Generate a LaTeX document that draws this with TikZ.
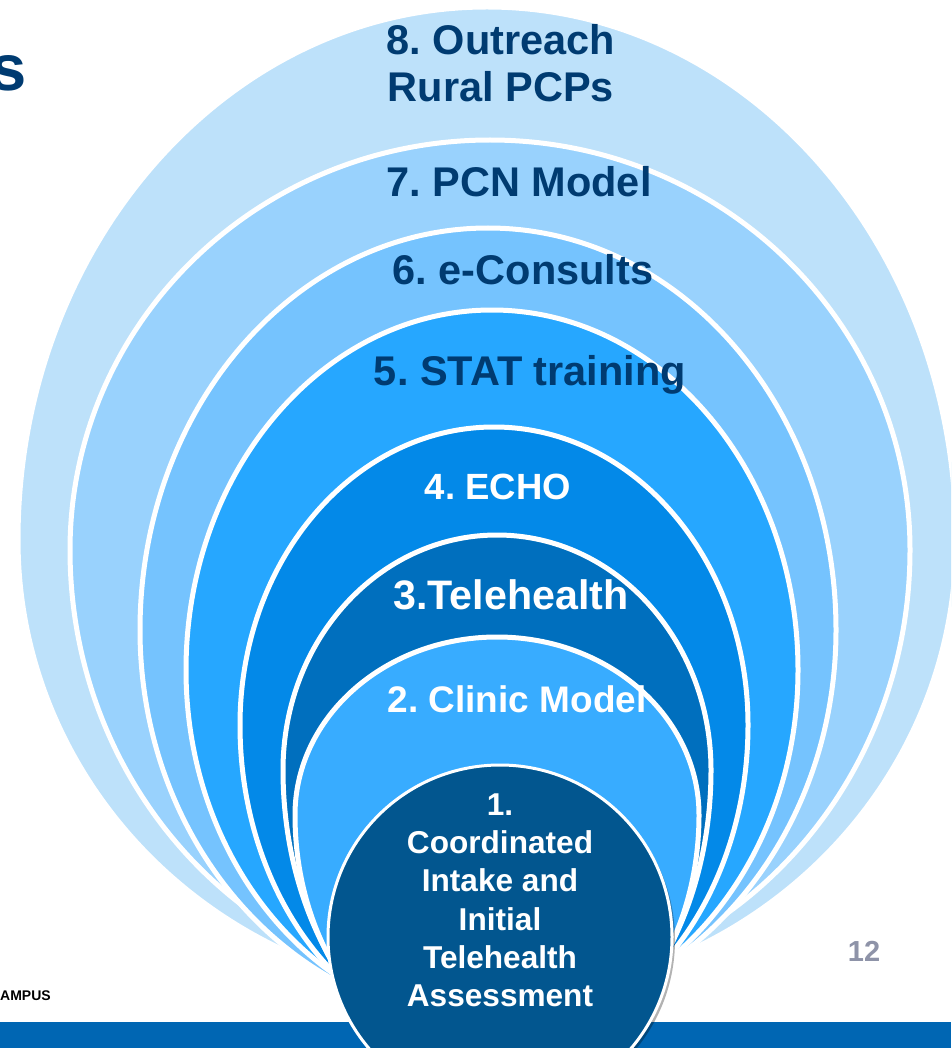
\documentclass[tikz,border=0pt]{standalone}
\usepackage{fontspec}
\setmainfont{Liberation Sans}
\usetikzlibrary{shadows}

\definecolor{ringA}{HTML}{02568F}
\definecolor{ringB}{HTML}{38ACFF}
\definecolor{ringC}{HTML}{006FBE}
\definecolor{ringD}{HTML}{0389E8}
\definecolor{ringE}{HTML}{26A7FF}
\definecolor{ringF}{HTML}{75C3FE}
\definecolor{ringG}{HTML}{99D2FD}
\definecolor{ringH}{HTML}{BDE1FA}
\definecolor{navy}{HTML}{003B71}
\definecolor{barblue}{HTML}{0066B3}
\definecolor{pagegray}{HTML}{8E93A8}

\tikzset{
	ring/.style={fill=#1, draw=white, line width=5pt},
	darklabel/.style={text=navy, font=\bfseries\fontsize{41.5}{47}\selectfont, inner sep=0pt, anchor=base},
	lightlabel/.style={text=white, font=\bfseries\fontsize{#1}{#1}\selectfont, inner sep=0pt, anchor=base},
}

\begin{document}
\frenchspacing
\begin{tikzpicture}[x=1pt, y=-1pt]
	\useasboundingbox (0,0) rectangle (951,1048);
	\clip (0,0) rectangle (951,1048);

	% nested eggs, outermost first
	\draw[ring=ringH] (18,540) arc[start angle=180, end angle=360, x radius=469, y radius=533] arc[start angle=0, end angle=180, x radius=469, y radius=455] -- cycle;
	\draw[ring=ringG] (70,550) arc[start angle=180, end angle=360, x radius=420, y radius=410] arc[start angle=0, end angle=180, x radius=420, y radius=440] -- cycle;
	\draw[ring=ringF] (140,630) arc[start angle=180, end angle=360, x radius=348, y radius=402] arc[start angle=0, end angle=180, x radius=348, y radius=390] -- cycle;
	\draw[ring=ringE] (186,670) arc[start angle=180, end angle=360, x radius=306, y radius=360] arc[start angle=0, end angle=180, x radius=306, y radius=355] -- cycle;
	\draw[ring=ringD] (240,725) arc[start angle=180, end angle=360, x radius=254, y radius=298] arc[start angle=0, end angle=180, x radius=254, y radius=319] -- cycle;
	\draw[ring=ringC] (283,770) arc[start angle=180, end angle=360, x radius=214, y radius=235] arc[start angle=0, end angle=180, x radius=214, y radius=300] -- cycle;
	\draw[ring=ringB] (295,815) arc[start angle=180, end angle=360, x radius=202, y radius=178] arc[start angle=0, end angle=180, x radius=202, y radius=255] -- cycle;

	% footer band
	\fill[barblue] (0,1022) rectangle (951,1048);

	% core circle
	\node[circle, minimum size=344pt, inner sep=0pt, fill=ringA, draw=white, line width=3pt,
		drop shadow={shadow xshift=3pt, shadow yshift=-3pt, opacity=0.3, fill=black}] (core) at (500,937) {};

	% labels
	\node[darklabel, anchor=south, text depth=0pt, align=center] (outreach) at (501,102) {8. Outreach\\Rural PCPs};
	\node[darklabel] (pcn) at (519,197) {7. PCN Model};
	\node[darklabel] (econsult) at (523,284) {6. e-Consults};
	\node[darklabel] (stat) at (530,385) {5. STAT training};
	\node[lightlabel=36.5] (echo) at (498,499) {4. ECHO};
	\node[lightlabel=41.2] (tele) at (511,609) {3.Telehealth};
	\node[lightlabel=37] (clinic) at (517,712) {2. Clinic Model};
	\node[text=white, font=\bfseries\fontsize{31.6}{38.3}\selectfont, inner sep=0pt, anchor=south, text depth=0pt, align=center] (intake) at (500,1007)
		{1.\\Coordinated\\Intake and\\Initial\\Telehealth\\Assessment};

	% slide leftovers
	\node[text=navy, font=\bfseries\fontsize{65}{70}\selectfont, inner sep=0pt, anchor=base east] (title) at (27,91) {s};
	\node[font=\bfseries\fontsize{14}{16}\selectfont, inner sep=0pt, anchor=base west] (campus) at (0,1000) {AMPUS};
	\node[text=pagegray, font=\bfseries\fontsize{29}{32}\selectfont, inner sep=0pt, anchor=base] (pageno) at (864,961) {12};
\end{tikzpicture}
\end{document}
